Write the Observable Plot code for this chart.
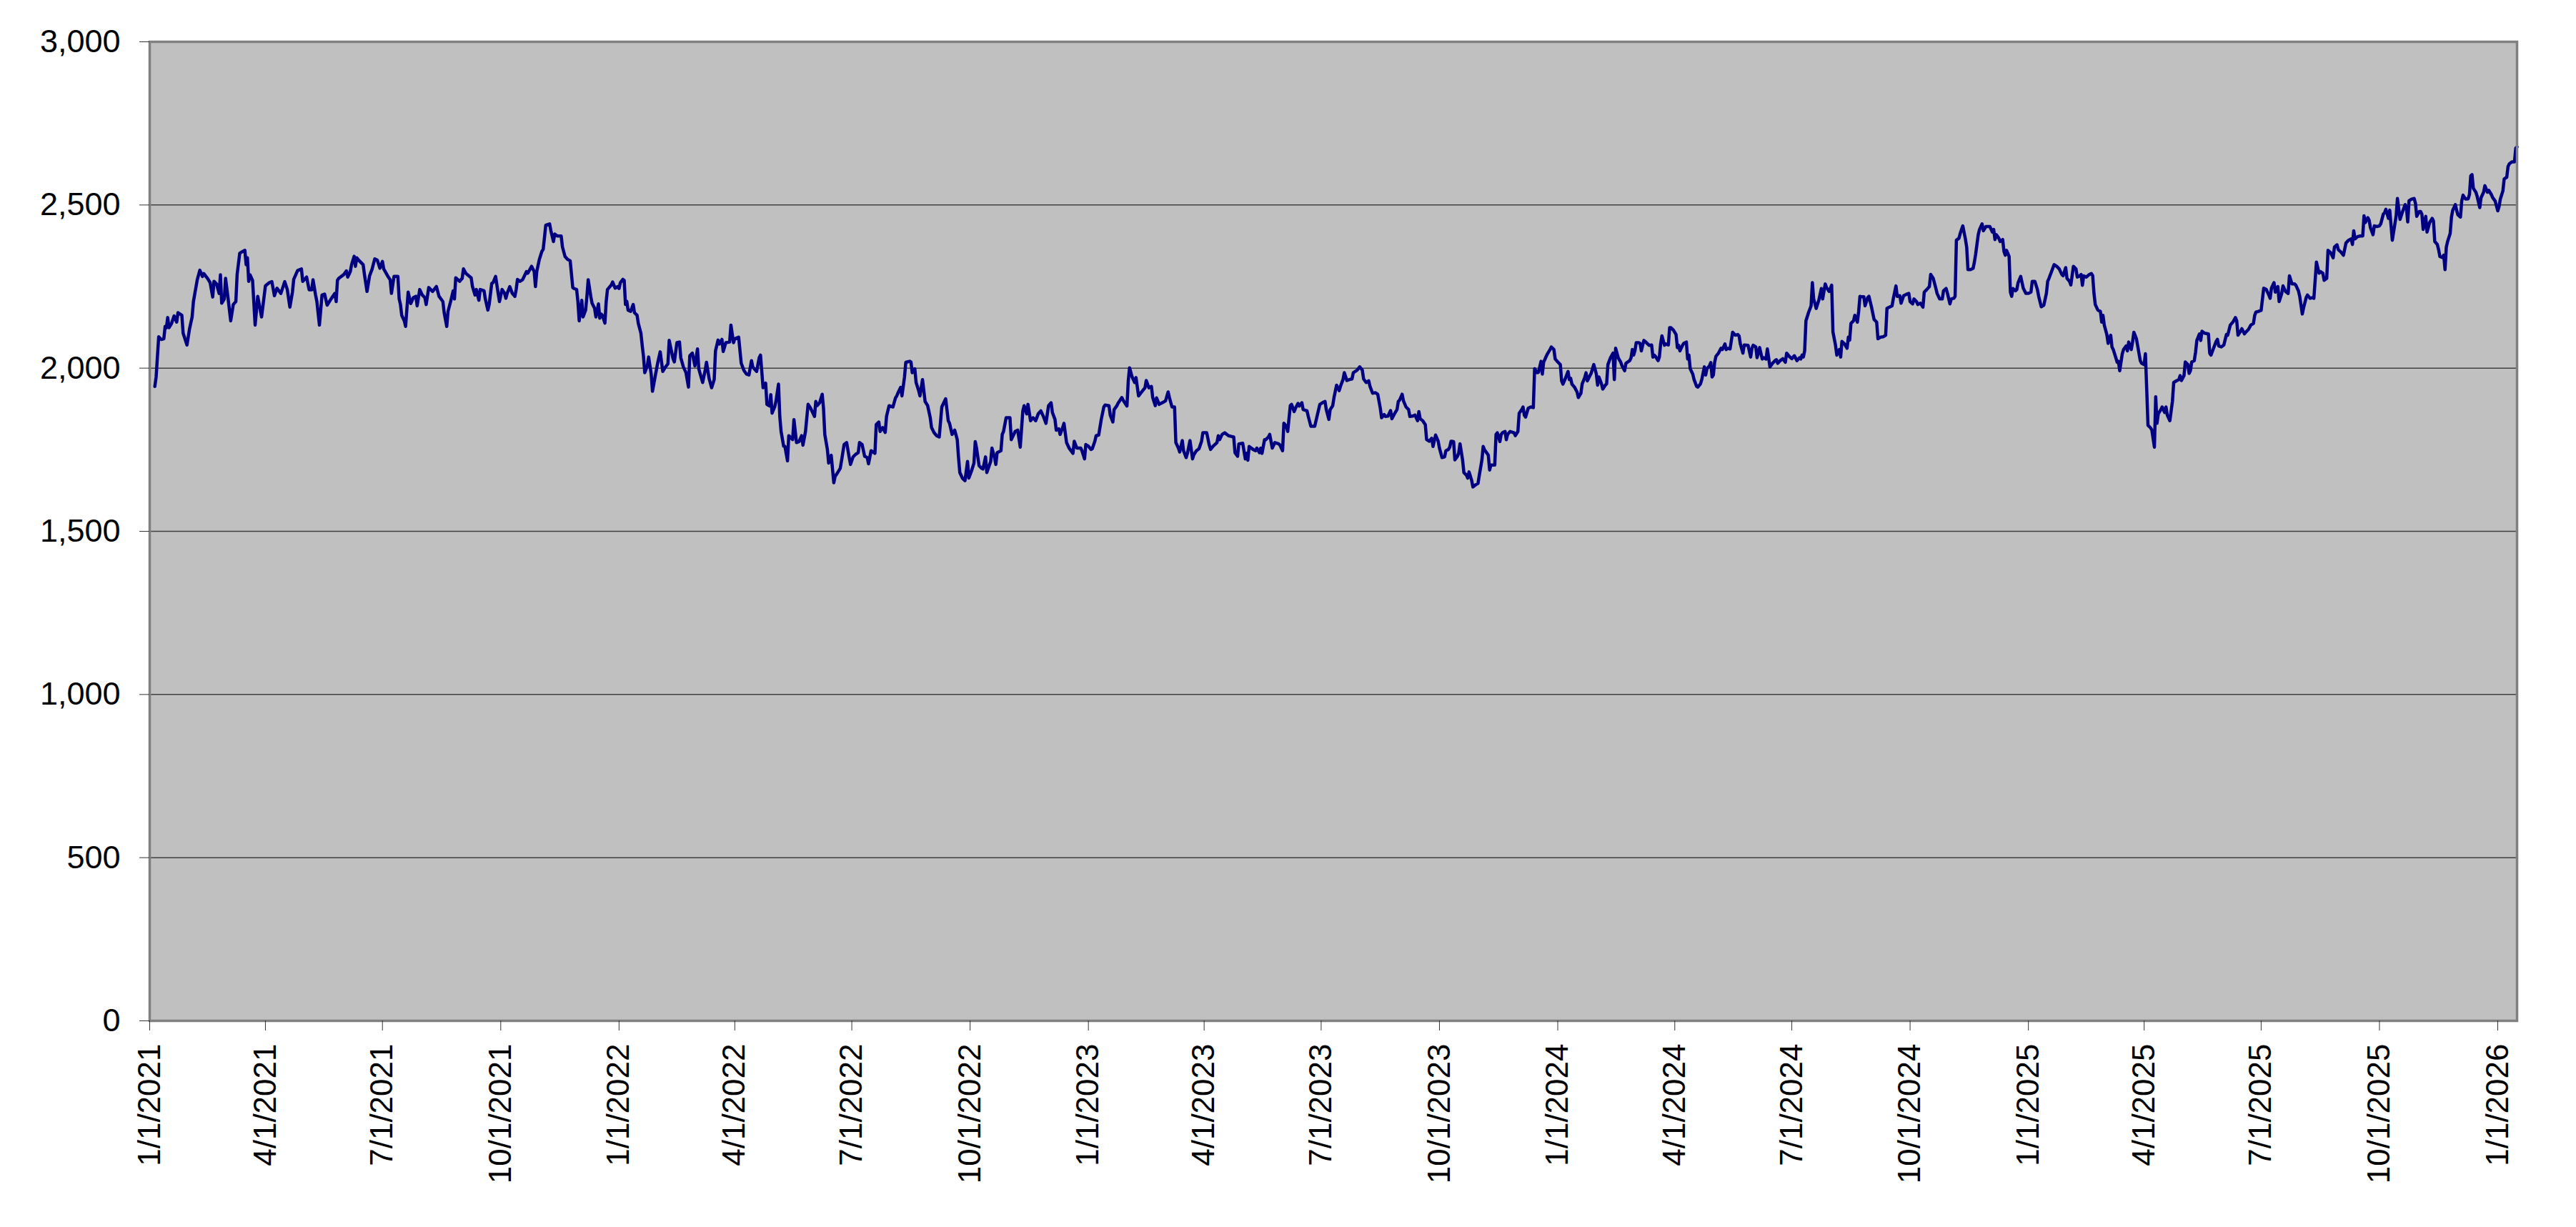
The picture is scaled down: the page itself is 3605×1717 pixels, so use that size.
<!DOCTYPE html>
<html>
<head>
<meta charset="utf-8">
<script src="https://cdn.jsdelivr.net/npm/d3@7"></script>
<script src="https://cdn.jsdelivr.net/npm/@observablehq/plot@0.6"></script>
<style>
  html, body { margin: 0; padding: 0; background: white; }
</style>
</head>
<body>
<div id="chart"></div>
<script>
// Series start date; each point is (days after start, value)
const startDate = "2021-01-01";
const endDate = "2026-01-16";

const days = [
4,5,7,9,11,12,13,14,15,17,19,21,22,25,26,29,31,33,34,37,39,41,42,45,47,49,50,52,54,55,56,58,59,61,63,65,67,68,70,72,74,75,76,77,78,80,82,84,87,90,93,95,97,99,102,105,107,109,111,112,115,118,119,122,124,126,127,129,130,132,134,136,138,141,144,145,146,147,151,153,154,156,157,159,160,161,163,166,167,169,171,173,175,177,179,181,182,185,187,188,190,193,194,195,196,198,199,201,203,205,207,208,210,212,214,215,217,220,223,225,228,229,231,232,234,236,237,238,241,243,244,246,250,251,253,254,256,257,260,261,263,264,266,267,269,271,272,274,276,277,278,280,282,284,285,286,288,290,293,294,297,299,300,301,303,305,306,307,308,311,312,314,315,317,320,321,323,325,327,329,330,332,333,334,336,337,339,340,341,343,344,346,347,349,350,351,352,354,355,356,359,360,362,364,365,366,368,369,370,371,372,374,376,377,379,380,382,383,384,385,387,388,390,391,393,395,397,399,401,403,404,407,408,410,412,413,415,417,419,420,422,424,426,427,430,432,433,435,437,439,440,442,443,445,446,448,451,452,454,455,458,460,462,464,466,468,469,472,
474,475,477,479,480,482,483,484,486,487,489,490,491,493,494,496,497,499,500,501,503,505,507,508,510,512,514,517,518,519,521,523,524,525,527,528,530,532,533,535,537,538,540,542,544,545,547,549,551,552,554,556,558,559,561,564,565,567,568,570,572,573,575,578,580,581,582,584,585,587,588,591,592,593,595,596,598,599,601,603,605,607,608,610,612,614,615,616,618,619,621,622,624,626,628,629,630,632,634,636,637,639,641,642,643,645,647,648,650,651,654,655,657,658,659,662,663,664,666,669,670,672,673,675,677,679,680,682,683,685,687,689,691,693,695,697,699,701,702,704,705,707,708,710,711,713,715,718,719,721,724,725,727,728,730,732,733,735,736,738,740,742,743,746,747,749,750,752,753,756,757,760,761,762,764,766,767,769,771,774,775,777,779,780,782,783,785,788,790,792,793,795,797,798,800,801,803,804,806,807,809,811,812,814,816,818,819,822,824,825,827,830,831,832,834,836,839,841,843,844,846,847,850,852,853,854,855,858,860,861,863,864,865,867,868,870,871,873,875,878,879,881,882,884,885,887,888,890,891,893,894,896,897,900,901,903,906,908,910,912,914,915,917,918,920,921,923,925,926,928,929,931,933,935,936,939,941,943,944,946,
948,949,951,953,955,957,958,960,961,963,965,966,968,970,971,972,974,975,977,979,980,982,984,986,987,988,990,992,993,995,997,998,1000,1002,1003,1005,1007,1008,1010,1011,1012,1014,1015,1017,1018,1019,1021,1022,1024,1025,1026,1028,1029,1031,1033,1034,1036,1037,1038,1040,1041,1042,1043,1046,1047,1048,1050,1051,1052,1054,1055,1056,1058,1061,1062,1064,1065,1067,1068,1069,1070,1072,1074,1076,1077,1079,1080,1082,1083,1084,1086,1087,1089,1090,1092,1093,1095,1097,1098,1099,1101,1103,1104,1105,1106,1108,1110,1111,1113,1114,1116,1117,1118,1120,1121,1122,1123,1125,1126,1127,1129,1130,1132,1133,1134,1136,1138,1139,1140,1142,1144,1145,1147,1148,1151,1152,1153,1154,1155,1156,1158,1159,1160,1161,1162,1164,1166,1168,1169,1170,1171,1173,1174,1175,1176,1178,1179,1181,1182,1183,1185,1187,1188,1189,1190,1192,1193,1195,1196,1197,1198,1200,1201,1203,1204,1206,1207,1209,1210,1211,1213,1214,1215,1216,1217,1218,1220,1222,1223,1225,1226,1227,1229,1231,1233,1235,1236,1237,1239,1240,1243,1245,1246,1247,1249,1250,1252,1254,1255,1257,1258,1260,1262,1264,1265,1266,1268,1270,1272,1273,1275,1277,1279,1281,1283,1284,1285,1286,1287,1288,1290,1292,1293,1294,1296,1298,1300,1301,1303,1304,1306,1308,1309,1311,1312,1314,1315,1316,1318,1320,1321,1322,1323,1325,1326,1328,1329,1330,1331,1333,1334,1336,1337,1339,1341,1343,1344,1346,1348,1350,1351,1353,1355,1356,1358,1359,1361,1362,1364,1366,1368,1369,1371,1372,1374,1375,1377,1379,1380,1382,1384,1385,1387,1389,1390,1392,1394,1395,1397,1398,1400,1401,1403,1404,1405,1407,
1408,1410,1412,1413,1414,1416,1418,1419,1420,1422,1423,1425,1426,1428,1431,1433,1434,1435,1436,1438,1439,1441,1442,1443,1444,1446,1447,1448,1449,1451,1452,1453,1455,1457,1459,1461,1463,1464,1466,1468,1469,1471,1473,1475,1476,1477,1479,1481,1483,1485,1487,1488,1490,1491,1493,1494,1496,1498,1499,1501,1502,1503,1504,1506,1508,1510,1511,1512,1513,1515,1517,1518,1519,1520,1522,1523,1525,1526,1527,1529,1530,1531,1532,1534,1535,1537,1538,1539,1541,1542,1543,1545,1546,1548,1549,1551,1552,1553,1554,1556,1557,1559,1560,1561,1562,1564,1565,1567,1568,1569,1571,1573,1574,1576,1578,1579,1580,1582,1583,1585,1586,1587,1588,1590,1591,1592,1594,1595,1596,1598,1601,1602,1603,1605,1607,1608,1609,1611,1613,1615,1616,1618,1620,1622,1623,1624,1626,1627,1629,1630,1632,1634,1636,1637,1638,1640,1642,1644,1646,1648,1649,1650,1652,1653,1655,1656,1658,1659,1661,1663,1664,1666,1668,1669,1671,1672,1674,1675,1677,1678,1680,1682,1683,1685,1687,1688,1690,1691,1693,1694,1696,1698,1699,1701,1702,1704,1706,1708,1710,1712,1713,1714,1715,1717,1719,1721,1722,1723,1725,1726,1727,1729,1730,1732,1734,1735,1737,1738,1739,1741,1742,1744,1745,1747,1748,1750,1752,1754,1755,1756,1757,1759,1761,1762,1763,1765,1766,1767,1768,1770,1771,1772,1773,1775,1776,1777,1779,1780,1781,1783,1784,1785,1786,1787,1789,1790,1791,1793,1794,1795,1797,1798,1799,1801,1803,1804,1805,1806,1807,1809,1810,1812,1813,1815,1816,1818,1819,1821,1822,1824,1826,1827,1828,1830,1831,1833,1834,1835,1837,1839,1840,1841
];

const values = [
1944,1973,2096,2088,2090,2128,2124,2155,2124,2137,2160,2141,2170,2162,2107,2071,2121,2157,2204,2271,2300,2281,2290,2275,2262,2218,2266,2258,2229,2286,2199,2212,2275,2212,2145,2195,2204,2287,2352,2357,2361,2317,2338,2266,2286,2269,2132,2220,2157,2252,2262,2265,2222,2245,2229,2265,2241,2187,2233,2272,2299,2304,2266,2279,2240,2240,2271,2224,2204,2132,2224,2227,2193,2212,2229,2204,2269,2275,2287,2298,2279,2296,2317,2343,2312,2338,2329,2317,2287,2235,2283,2304,2335,2331,2306,2327,2304,2283,2271,2229,2281,2281,2212,2195,2162,2145,2128,2233,2198,2216,2220,2191,2241,2224,2216,2195,2247,2235,2250,2220,2204,2170,2128,2174,2204,2237,2212,2277,2266,2275,2304,2290,2277,2250,2224,2241,2208,2241,2237,2212,2178,2195,2260,2262,2281,2229,2204,2241,2229,2214,2229,2250,2229,2220,2241,2272,2266,2271,2296,2291,2312,2296,2250,2296,2333,2358,2364,2400,2438,2442,2421,2388,2411,2405,2405,2371,2342,2333,2329,2247,2244,2241,2204,2145,2208,2157,2178,2220,2271,2220,2199,2183,2157,2197,2153,2166,2162,2138,2204,2241,2255,2264,2245,2250,2244,2262,2272,2269,2195,2205,2178,2174,2195,2170,2162,2137,2107,2070,2036,1986,2007,2034,1982,1929,1973,2015,2050,1990,2003,2013,2085,2029,2019,2078,2080,2032,2004,1987,1942,2038,2046,2007,2059,1998,1956,1994,2018,1969,1940,1965,2053,2086,2074,2088,2051,2078,2080,2132,2078,2090,2095,2015,1994,1982,1979,2023,2003,1990,
2032,2040,1940,1954,1889,1884,1919,1862,1881,1898,1951,1852,1806,1761,1760,1716,1793,1785,1781,1842,1772,1775,1793,1764,1806,1889,1877,1852,1898,1885,1894,1920,1877,1797,1751,1709,1733,1649,1668,1680,1693,1716,1766,1772,1726,1705,1728,1736,1741,1772,1766,1730,1726,1707,1747,1739,1827,1835,1806,1818,1803,1852,1885,1881,1909,1915,1925,1941,1915,1973,2018,2021,2019,1986,1998,1956,1931,1915,1965,1898,1885,1848,1818,1802,1793,1789,1835,1881,1898,1906,1839,1831,1797,1810,1781,1726,1680,1663,1655,1714,1663,1684,1709,1775,1755,1701,1693,1691,1728,1680,1714,1755,1726,1705,1741,1747,1797,1806,1848,1848,1781,1797,1806,1810,1758,1869,1885,1860,1889,1839,1848,1839,1860,1869,1852,1831,1885,1894,1864,1843,1810,1814,1797,1818,1831,1772,1755,1739,1776,1755,1755,1747,1722,1766,1761,1751,1753,1776,1793,1795,1843,1881,1887,1885,1856,1835,1873,1884,1892,1910,1902,1884,1961,2001,1973,1956,1971,1915,1925,1940,1962,1940,1944,1910,1885,1909,1889,1895,1900,1927,1910,1881,1881,1772,1755,1743,1778,1747,1726,1739,1778,1722,1735,1747,1753,1776,1802,1802,1764,1751,1761,1772,1793,1781,1797,1802,1793,1791,1789,1741,1730,1768,1770,1722,1739,1718,1760,1751,1747,1755,1741,1755,1739,1781,1781,1789,1797,1755,1772,1768,1764,1747,1831,1822,1806,1885,1889,1867,1877,1892,1884,1894,1873,1869,1852,1822,1822,1856,1889,1894,1898,1873,1843,1873,1885,1910,1948,1931,1944,1965,1986,1962,1965,1967,1986,1994,2004,1994,1967,1956,
1961,1944,1923,1925,1920,1877,1848,1858,1852,1853,1870,1845,1860,1873,1898,1902,1920,1900,1881,1873,1852,1853,1856,1839,1867,1845,1839,1827,1781,1776,1785,1760,1795,1776,1755,1726,1728,1747,1751,1758,1776,1775,1719,1730,1741,1768,1718,1680,1672,1663,1682,1657,1636,1642,1647,1672,1718,1760,1750,1739,1733,1688,1703,1703,1797,1802,1775,1797,1802,1806,1781,1797,1806,1802,1793,1806,1862,1873,1881,1856,1850,1877,1881,1879,1998,1986,1987,2021,1982,2018,2036,2044,2057,2065,2057,2028,2019,2011,1961,1951,1969,1990,1965,1969,1951,1942,1927,1910,1923,1952,1971,1986,1961,1977,1984,1998,2011,1982,1948,1973,1952,1936,1948,1952,2011,2032,2046,1965,2061,2032,2018,2007,1992,2015,2023,2032,2057,2040,2053,2078,2078,2076,2053,2070,2085,2078,2070,2071,2034,2040,2036,2023,2034,2074,2099,2070,2074,2071,2124,2124,2116,2103,2063,2070,2053,2070,2076,2080,2028,2040,1998,1982,1965,1944,1942,1952,1965,2004,1979,1998,2007,2017,1973,1979,2018,2036,2046,2061,2057,2074,2057,2061,2059,2110,2101,2103,2099,2074,2046,2071,2070,2034,2061,2070,2065,2032,2063,2028,2032,2028,2059,2004,2015,2023,2026,2015,2023,2029,2018,2046,2036,2029,2038,2023,2032,2028,2040,2034,2053,2145,2170,2191,2262,2212,2183,2208,2244,2212,2258,2247,2235,2254,2111,2070,2040,2057,2034,2082,2074,2061,2095,2086,2137,2145,2162,2141,2174,2220,2219,2219,2191,2216,2220,2187,2149,2141,2090,2095,2096,2101,2183,2187,2191,2214,2252,2220,2222,2199,2222,2226,2229,2204,2197,2212,2204,2195,2199,2187,2233,2241,2250,2287,2275,2245,2229,2212,2212,2237,2244,2230,2197,2212,2214,2220,2392,2398,
2413,2436,2396,2371,2302,2302,2306,2325,2350,2409,2425,2442,2421,2434,2434,2417,2425,2394,2409,2398,2388,2394,2358,2346,2361,2342,2233,2220,2244,2237,2241,2262,2281,2245,2229,2229,2233,2266,2266,2241,2220,2188,2193,2229,2266,2275,2296,2317,2312,2304,2287,2283,2308,2275,2266,2255,2312,2304,2279,2283,2287,2254,2283,2279,2286,2290,2283,2229,2195,2178,2174,2141,2162,2132,2103,2076,2101,2065,2057,2032,2018,2021,1992,2044,2057,2068,2053,2080,2057,2080,2110,2090,2068,2023,2015,2011,2044,1936,1825,1817,1810,1758,1912,1831,1860,1873,1881,1864,1881,1856,1839,1898,1956,1961,1965,1977,1962,1977,2019,2011,1984,1992,2019,2023,2049,2085,2105,2085,2113,2107,2105,2046,2040,2061,2082,2088,2068,2065,2071,2103,2101,2132,2141,2155,2145,2101,2113,2121,2105,2110,2118,2132,2137,2162,2172,2174,2177,2245,2241,2224,2214,2245,2262,2233,2250,2204,2229,2252,2235,2229,2283,2258,2258,2254,2237,2220,2166,2185,2216,2224,2214,2216,2214,2325,2291,2296,2291,2269,2275,2361,2354,2338,2371,2378,2363,2356,2346,2384,2392,2396,2379,2421,2396,2403,2405,2405,2467,2446,2461,2453,2430,2409,2436,2434,2436,2442,2472,2476,2487,2459,2484,2392,2417,2467,2520,2456,2480,2501,2490,2448,2513,2518,2520,2505,2465,2480,2480,2472,2425,2465,2417,2431,2446,2459,2451,2388,2379,2363,2342,2339,2346,2302,2371,2388,2413,2463,2484,2501,2484,2470,2463,2513,2530,2518,2519,2532,2589,2593,2551,2539,2526,2492,2522,2539,2559,2539,2545,2532,2523,2512,2482,2495,2518,2543,2580,2585,2618,2626,2632,2632,2674,2678
];

const yTicks = [0, 500, 1000, 1500, 2000, 2500, 3000];
const xTickLabels = ["1/1/2021","4/1/2021","7/1/2021","10/1/2021","1/1/2022","4/1/2022","7/1/2022","10/1/2022","1/1/2023","4/1/2023","7/1/2023","10/1/2023","1/1/2024","4/1/2024","7/1/2024","10/1/2024","1/1/2025","4/1/2025","7/1/2025","10/1/2025","1/1/2026"];

const parseMDY = d3.utcParse("%m/%d/%Y");
const start = d3.utcParse("%Y-%m-%d")(startDate);
const end = d3.utcParse("%Y-%m-%d")(endDate);
const n = Math.min(days.length, values.length);
const data = d3.range(n).map(i => ({date: d3.utcDay.offset(start, days[i]), value: values[i]}));
const xTicks = xTickLabels.map(parseMDY);
const fmtX = d3.utcFormat("%-m/%-d/%Y");

const chart = Plot.plot({
  width: 3605,
  height: 1717,
  marginLeft: 209,
  marginRight: 83,
  marginTop: 58,
  marginBottom: 289,
  style: {fontFamily: "'Liberation Sans', Arial, sans-serif", background: "white", color: "black", overflow: "visible"},
  x: {type: "utc", domain: [start, end]},
  y: {domain: [0, 3000]},
  marks: [
    Plot.frame({fill: "#C0C0C0"}),
    Plot.ruleY(yTicks.filter(v => v > 0 && v < 3000), {stroke: "#404040", strokeWidth: 1.5}),
    Plot.line(data, {x: "date", y: "value", stroke: "#000080", strokeWidth: 4.5, strokeLinejoin: "round"}),
    Plot.frame({stroke: "#808080", strokeWidth: 3.5}),
    Plot.axisY(yTicks, {tickSize: 14, tickPadding: 27, fontSize: 45, tickFormat: d3.format(","), label: null, stroke: "#333"}),
    Plot.axisX(xTicks, {tickSize: 14, tickPadding: 18, tickRotate: -90, fontSize: 44, tickFormat: fmtX, label: null, stroke: "#333"})
  ]
});
document.getElementById("chart").appendChild(chart);
</script>
</body>
</html>
